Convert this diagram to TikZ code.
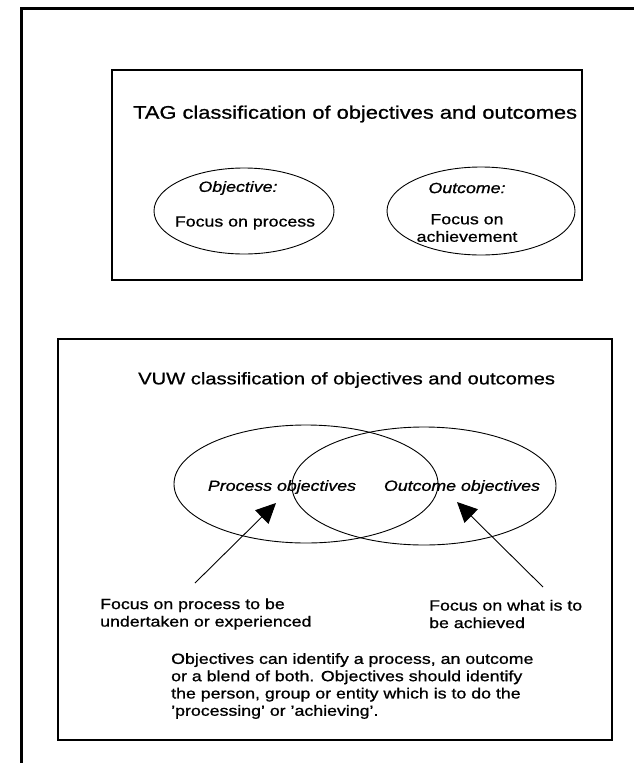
\documentclass[tikz,border=0pt]{standalone}
\usepackage{fontspec}
\setmainfont[FakeStretch=1.2,FakeBold=0.9]{Liberation Sans}
\usetikzlibrary{shapes.geometric,arrows.meta}
\newcommand{\sq}{{\char39}}
\begin{document}
\begin{tikzpicture}[x=1pt,y=-1pt,
  frame/.style={line width=3pt},
  panel/.style={draw,line width=1.3pt},
  oval/.style={draw,ellipse,line width=0.9pt,inner sep=0pt},
  body/.style={font=\fontsize{14.8}{17.5}\selectfont,inner sep=0pt},
  ttl/.style={inner sep=0pt,anchor=west},
  ptr/.style={line width=0.9pt,-{Triangle[length=20pt,width=19pt]}}]
\useasboundingbox (0,0) rectangle (635,763);
% outer frame (top and left only)
\draw[frame] (21,770) -- (21,8) -- (634,8);
% top panel
\node[panel,minimum width=470pt,minimum height=210pt,inner sep=0pt] (tag) at (347,175) {};
\node[ttl,font=\fontsize{18.2}{20}\selectfont] (tagtitle) at (133,114) {TAG classification of objectives and outcomes};
\node[oval,minimum width=180pt,minimum height=86pt] (obj) at (244,211) {};
\node[oval,minimum width=188pt,minimum height=88pt] (out) at (481,211) {};
\node[body,font=\fontsize{14.8}{17.5}\selectfont\itshape] (objl) at (238,188) {Objective:};
\node[body] (objt) at (245,223) {Focus on process};
\node[body,font=\fontsize{14.8}{17.5}\selectfont\itshape] (outl) at (467,188) {Outcome:};
\node[body,align=center] (outt) at (467,228) {Focus on\\achievement};
% bottom panel
\node[panel,minimum width=554pt,minimum height=401pt,inner sep=0pt] (vuw) at (335,539.5) {};
\node[ttl,font=\fontsize{16.8}{20}\selectfont] (vuwtitle) at (138,380) {VUW classification of objectives and outcomes};
\node[oval,minimum width=264pt,minimum height=118pt] (po) at (306,484) {};
\node[oval,minimum width=264pt,minimum height=118pt] (oo) at (424,486) {};
\node[body,font=\fontsize{14.8}{17.5}\selectfont\itshape] (pol) at (282,487) {Process objectives};
\node[body,font=\fontsize{14.8}{17.5}\selectfont\itshape] (ool) at (462,487) {Outcome objectives};
\coordinate (ltip) at (276,503);
\coordinate (ltail) at (195,583);
\coordinate (rtip) at (457,502);
\coordinate (rtail) at (543,587);
\draw[ptr] (ltail) -- (ltip);
\draw[ptr] (rtail) -- (rtip);
\node[body,align=left,anchor=west] (lnote) at (100,614) {Focus on process to be\\undertaken or experienced};
\node[body,align=left,anchor=west] (rnote) at (429,614) {Focus on what is to\\be achieved};
\node[body,align=left,anchor=west,font=\fontsize{14.8}{17.3}\selectfont] (para) at (171,686) {Objectives can identify a process, an outcome\\or a blend of both. Objectives should identify\\the person, group or entity which is to do the\\\sq processing\sq{} or \sq achieving\sq .};
\end{tikzpicture}
\end{document}
